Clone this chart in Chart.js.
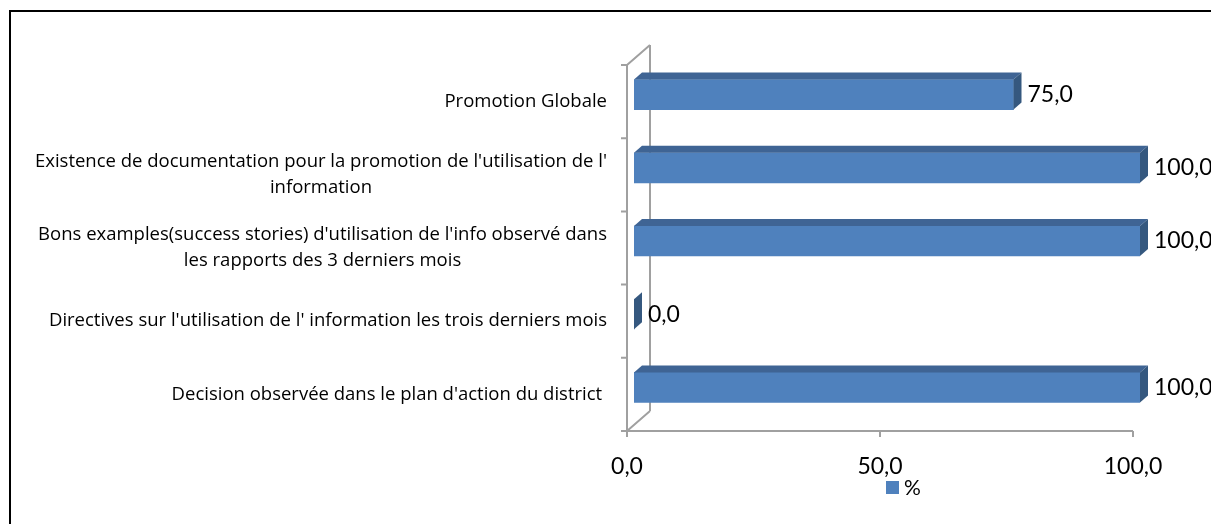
<!DOCTYPE html>
<html>
<head>
<meta charset="utf-8">
<script src="https://cdn.jsdelivr.net/npm/chart.js@4"></script>
<style>
    body { margin: 0; background: #fff; }
    #zone { width: 1211px; height: 524px; }
</style>
</head>
<body>
<div id="zone"><canvas id="chartPromotion" width="1211" height="524"></canvas></div>
<script>
// categories, du haut vers le bas
const categories = [
    "Promotion Globale",
    ["Existence de documentation pour la promotion de l'utilisation de l'", "information"],
    ["Bons examples(success stories) d'utilisation de l'info observé dans", "les rapports des 3 derniers mois"],
    "Directives sur l'utilisation de l' information les trois derniers mois",
    "Decision observée dans le plan d'action du district "
];
const pourcentages = [75.0, 100.0, 100.0, 0.0, 100.0];
const serieLabel = '%';
const ticksX = [0, 50, 100];

const BLEU = '#4F81BD';
const BLEU_DESSUS = '#3F6494';
const BLEU_COTE = '#35587F';
const GRIS = '#A0A0A0';
const POLICE = 'Lato, "Open Sans", sans-serif';
const POLICE_CAT = '"Open Sans", Lato, sans-serif';

function virgule(v) {
    return v.toFixed(1).replace('.', ',');
}

// cadre noir + murs 3D gris
const cadre3d = {
    id: 'cadre3d',
    beforeDatasetsDraw(chart) {
        const ctx = chart.ctx;
        const xs = chart.scales.x;
        const area = chart.chartArea;
        const L = xs.getPixelForValue(ticksX[0]);
        const R = xs.getPixelForValue(ticksX[ticksX.length - 1]);
        const T = area.top, B = area.bottom;

        ctx.save();
        ctx.strokeStyle = '#000';
        ctx.lineWidth = 2;
        ctx.strokeRect(10, 11, 1400, 800);

        ctx.strokeStyle = GRIS;
        ctx.lineWidth = 2;
        ctx.beginPath();
        // mur du fond
        ctx.moveTo(L + 16, T - 13); ctx.lineTo(L + 16, B - 13);
        ctx.moveTo(L - 7, T + 7); ctx.lineTo(L + 16, T - 13);
        ctx.moveTo(L - 7, B + 7); ctx.lineTo(L + 16, B - 13);
        // axes de face
        ctx.moveTo(L - 7, T + 7); ctx.lineTo(L - 7, B + 7);
        ctx.lineTo(R - 7, B + 7);
        const n = categories.length;
        for (let k = 0; k <= n; k++) {
            const y = T + 7 + k * (B - T) / n;
            ctx.moveTo(L - 13, y); ctx.lineTo(L - 7, y);
        }
        ticksX.forEach(v => {
            const x = xs.getPixelForValue(v) - 7;
            ctx.moveTo(x, B + 7); ctx.lineTo(x, B + 13);
        });
        ctx.stroke();

        // libelles des categories
        const ys = chart.scales.y;
        ctx.fillStyle = '#000';
        ctx.font = '18.5px ' + POLICE_CAT;
        ctx.textBaseline = 'middle';
        ctx.textAlign = 'center';
        categories.forEach((lab, i) => {
            const lignes = Array.isArray(lab) ? lab : [lab];
            const large = Math.max(...lignes.map(l => ctx.measureText(l).width));
            const cx = L - 27 - large / 2;
            const cy = ys.getPixelForValue(i) + 7;
            lignes.forEach((l, j) => {
                ctx.fillText(l, cx, cy + (j - (lignes.length - 1) / 2) * 26);
            });
        });
        ctx.restore();
    },
    afterDatasetsDraw(chart) {
        const ctx = chart.ctx;
        const meta = chart.getDatasetMeta(0);
        const dx = 8, dy = 7;
        ctx.save();
        meta.data.forEach((bar, i) => {
            const p = bar.getProps(['x', 'y', 'base', 'height'], true);
            const haut = p.y - p.height / 2;
            const bas = p.y + p.height / 2;
            // dessus
            ctx.fillStyle = BLEU_DESSUS;
            ctx.beginPath();
            ctx.moveTo(p.base, haut);
            ctx.lineTo(p.base + dx, haut - dy);
            ctx.lineTo(p.x + dx, haut - dy);
            ctx.lineTo(p.x, haut);
            ctx.closePath();
            ctx.fill();
            // cote
            ctx.fillStyle = BLEU_COTE;
            ctx.beginPath();
            ctx.moveTo(p.x, haut);
            ctx.lineTo(p.x + dx, haut - dy);
            ctx.lineTo(p.x + dx, bas - dy);
            ctx.lineTo(p.x, bas);
            ctx.closePath();
            ctx.fill();
            // valeur
            ctx.fillStyle = '#000';
            ctx.font = '23px ' + POLICE;
            ctx.textAlign = 'left';
            ctx.textBaseline = 'middle';
            ctx.fillText(virgule(pourcentages[i]), p.x + dx + 6, p.y);
        });

        // legende
        const xs = chart.scales.x;
        const lx = xs.getPixelForValue(50) - 1;
        ctx.fillStyle = BLEU;
        ctx.fillRect(lx, 481, 13, 13);
        ctx.fillStyle = '#000';
        ctx.font = '21px ' + POLICE;
        ctx.textAlign = 'left';
        ctx.textBaseline = 'middle';
        ctx.fillText(serieLabel, lx + 18, 488);
        ctx.restore();
    }
};

new Chart(document.getElementById('chartPromotion'), {
    type: 'bar',
    data: {
        labels: categories,
        datasets: [{
            label: serieLabel,
            data: pourcentages,
            backgroundColor: BLEU,
            borderWidth: 0,
            barThickness: 30
        }]
    },
    options: {
        indexAxis: 'y', // barres horizontales
        responsive: false,
        animation: false,
        layout: {
            padding: { left: 10, top: 58, right: 71, bottom: 47 }
        },
        plugins: {
            legend: { display: false },
            tooltip: { enabled: false }
        },
        scales: {
            y: {
                grid: { display: false, drawTicks: false },
                border: { display: false },
                ticks: { display: false },
                afterFit(scale) { scale.width = 624; }
            },
            x: {
                min: 0,
                max: 100,
                grid: { display: false, drawTicks: false },
                border: { display: false },
                afterFit(scale) { scale.height = 53; },
                afterBuildTicks(scale) {
                    scale.ticks = ticksX.map(v => ({ value: v }));
                },
                ticks: {
                    color: '#000',
                    padding: 29,
                    labelOffset: -7,
                    font: { family: POLICE, size: 23 },
                    callback: v => virgule(v)
                }
            }
        }
    },
    plugins: [cadre3d]
});
</script>
</body>
</html>
